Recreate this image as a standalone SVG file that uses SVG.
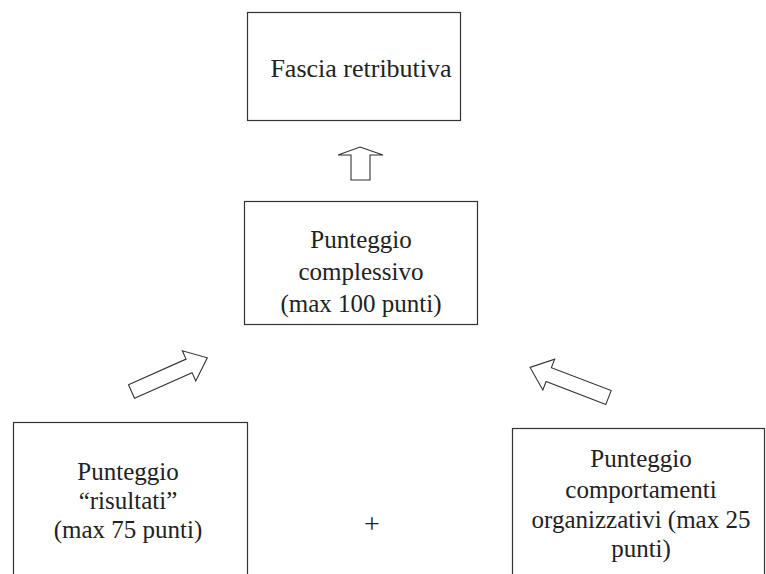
<svg xmlns="http://www.w3.org/2000/svg" width="766" height="574" viewBox="0 0 766 574">
<style>
.box{fill:#fff;stroke:#333;stroke-width:1.2}
.t{font-family:"Liberation Serif","Times New Roman",serif;font-size:25px;fill:#222;text-anchor:middle}
.arr{fill:#fff;stroke:#333;stroke-width:1.1;stroke-linejoin:miter}
</style>
<rect width="766" height="574" fill="#fff"/>
<g id="connectors">
<polygon class="arr" points="360,147 383,155 370,155 370,180 351,180 351,155 338,155"/>
<polygon class="arr" transform="translate(131.5,391.5) rotate(-24)" points="0,-7.4 63,-7.4 63,-16.5 83,0 63,16.5 63,7.4 0,7.4"/>
<polygon class="arr" transform="translate(608.5,397.5) rotate(201)" points="0,-7.4 64,-7.4 64,-16.5 84,0 64,16.5 64,7.4 0,7.4"/>
</g>
<g id="fascia">
<rect class="box" x="247.5" y="12.5" width="213" height="108"/>
<text class="t" x="361" y="77" style="font-size:26px">Fascia retributiva</text>
</g>
<g id="complessivo">
<rect class="box" x="244.5" y="201.5" width="233" height="123"/>
<text class="t" x="361" y="248">Punteggio</text>
<text class="t" x="361" y="280">complessivo</text>
<text class="t" x="361" y="312">(max 100 punti)</text>
</g>
<g id="risultati">
<rect class="box" x="13.5" y="422.5" width="234" height="200"/>
<text class="t" x="128" y="480">Punteggio</text>
<text class="t" x="128" y="509">“risultati”</text>
<text class="t" x="128" y="538">(max 75 punti)</text>
</g>
<g id="comportamenti">
<rect class="box" x="512.5" y="428.5" width="252" height="200"/>
<text class="t" x="641" y="467">Punteggio</text>
<text class="t" x="641" y="498">comportamenti</text>
<text class="t" x="641" y="528">organizzativi (max 25</text>
<text class="t" x="641" y="557">punti)</text>
</g>
<g id="plus">
<text class="t" x="372" y="533" style="font-size:28px">+</text>
</g>
</svg>
